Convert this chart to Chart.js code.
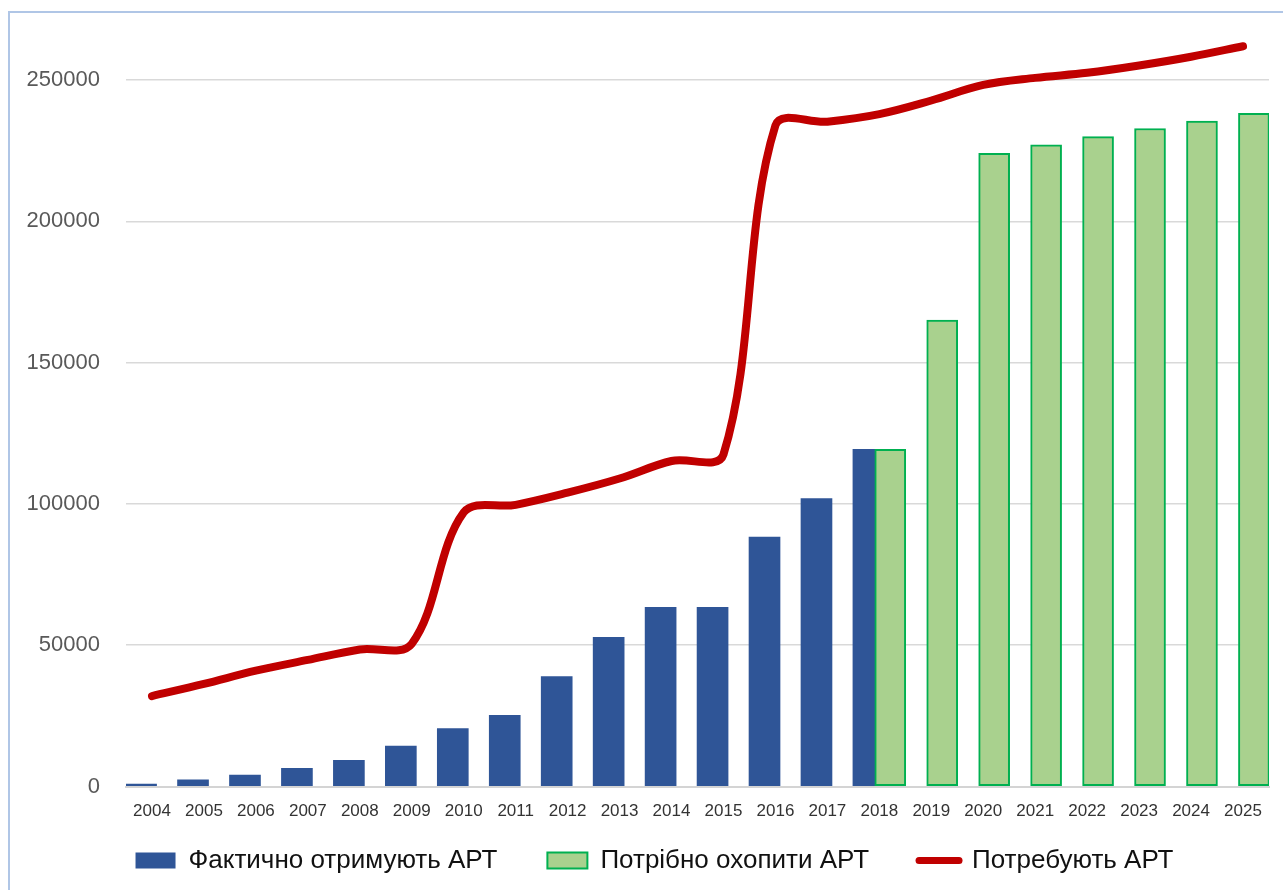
<!DOCTYPE html>
<html lang="uk">
<head>
<meta charset="utf-8">
<title>АРТ: фактичне охоплення та потреба</title>
<script src="https://cdn.jsdelivr.net/npm/chart.js@4.4.1/dist/chart.umd.min.js"></script>
<style>
  html, body { margin: 0; padding: 0; background: #ffffff; }
  #wrap { position: relative; width: 1283px; height: 890px; overflow: hidden; background: #ffffff; }
  #frame { position: absolute; left: 8px; top: 11px; width: 1400px; height: 1000px;
           border-left: 2px solid #b0c6e6; border-top: 2px solid #b0c6e6; box-sizing: border-box; }
  #chart { position: absolute; left: 0; top: 0; }
</style>
</head>
<body>
<div id="wrap">
  <div id="frame"></div>
  <canvas id="chart" width="1283" height="890"></canvas>
</div>
<script>
// Years on the horizontal axis
const YEARS = [2004, 2005, 2006, 2007, 2008, 2009, 2010, 2011, 2012, 2013, 2014,
               2015, 2016, 2017, 2018, 2019, 2020, 2021, 2022, 2023, 2024, 2025];

// People actually receiving ART (reported years)
const ACTUAL = [900, 2400, 4000, 6400, 9300, 14300, 20500, 25200, 38900, 52800, 63400,
                63400, 88300, 101900, 119300, null, null, null, null, null, null, null];

// People who need to be covered by ART (targets)
const TARGET = [null, null, null, null, null, null, null, null, null, null, null,
                null, null, null, 119300, 165100, 224100, 227100, 230000, 232900, 235500, 238300];

// People who require ART
const REQUIRED = [32000, 36300, 41000, 44800, 48500, 50500, 97000, 99700, 104000, 109000, 115200,
                  117500, 234000, 235300, 238000, 242800, 248300, 250800, 252600, 255200, 258300, 262000];

// Value-axis tick labels
const Y_TICKS = [0, 50000, 100000, 150000, 200000, 250000];

const LABELS = ['Фактично отримують АРТ', 'Потрібно охопити АРТ', 'Потребують АРТ'];

const BLUE = '#2F5597';
const GREEN_FILL = '#A9D18E';
const GREEN_EDGE = '#00B050';
const RED = '#C00000';

// The two bar series sit side by side within each year slot
const SLOT_SHIFT = 0.21;

function toPoints(values, shift) {
  const pts = [];
  values.forEach((v, i) => { if (v !== null) pts.push({ x: YEARS[i] + shift, y: v }); });
  return pts;
}

const FONT = '"Liberation Sans", Arial, sans-serif';

// Nudges the legend row into its place under the axis labels
const legendPlacement = {
  id: 'legendPlacement',
  afterLayout(chart) {
    const lg = chart.legend;
    if (!lg) return;
    const dy = -25, dx = 20;
    lg.top += dy;
    lg.left += dx; lg.right += dx;
    lg.bottom = chart.height;
    lg.height = lg.bottom - lg.top;
  }
};

new Chart(document.getElementById('chart'), {
  type: 'bar',
  plugins: [legendPlacement],
  data: {
    datasets: [
      {
        type: 'bar',
        label: LABELS[0],
        data: toPoints(ACTUAL, -SLOT_SHIFT),
        backgroundColor: BLUE,
        borderWidth: 0,
        barThickness: 31,
        grouped: false,
        order: 3
      },
      {
        type: 'bar',
        label: LABELS[1],
        data: toPoints(TARGET, SLOT_SHIFT),
        backgroundColor: GREEN_FILL,
        borderColor: GREEN_EDGE,
        borderWidth: 2,
        borderSkipped: false,
        barThickness: 31,
        grouped: false,
        order: 2
      },
      {
        type: 'line',
        label: LABELS[2],
        data: toPoints(REQUIRED, 0),
        borderColor: RED,
        backgroundColor: RED,
        borderWidth: 8,
        borderCapStyle: 'round',
        borderJoinStyle: 'round',
        tension: 0.35,
        pointRadius: 0,
        pointHoverRadius: 0,
        fill: false,
        order: 1
      }
    ]
  },
  options: {
    responsive: false,
    animation: false,
    layout: { padding: { left: 0, right: 14, top: 18, bottom: 17.5 } },
    scales: {
      x: {
        type: 'linear',
        min: YEARS[0] - 0.5,
        max: YEARS[YEARS.length - 1] + 0.5,
        offset: false,
        afterBuildTicks: (axis) => { axis.ticks = YEARS.map(v => ({ value: v })); },
        afterFit: (axis) => { axis.height = 36; },
        grid: { display: false, drawTicks: false },
        border: { display: true, color: '#d4d4d4', width: 2 },
        ticks: {
          autoSkip: false,
          maxRotation: 0,
          padding: 15,
          color: '#333333',
          font: { family: FONT, size: 17 },
          callback: (v) => String(v)
        }
      },
      y: {
        min: 0,
        max: 272000,
        afterBuildTicks: (axis) => { axis.ticks = Y_TICKS.map(v => ({ value: v })); },
        afterFit: (axis) => { axis.width = 126; },
        grid: { color: '#d9d9d9', lineWidth: 1.5, drawTicks: true, tickLength: 26, tickColor: 'rgba(0,0,0,0)' },
        border: { display: false },
        ticks: {
          padding: 0,
          color: '#595959',
          font: { family: FONT, size: 22 },
          callback: (v) => String(v)
        }
      }
    },
    plugins: {
      tooltip: { enabled: false },
      legend: {
        position: 'bottom',
        maxHeight: 50,
        labels: {
          usePointStyle: true,
          pointStyleWidth: 40,
          boxHeight: 16,
          padding: 50,
          color: '#111111',
          font: { family: FONT, size: 26 },
          generateLabels: (chart) => {
            const items = Chart.defaults.plugins.legend.labels.generateLabels(chart);
            items.forEach((it) => {
              const ds = chart.data.datasets[it.datasetIndex];
              if (ds.type === 'line') {
                it.pointStyle = 'line';
                it.strokeStyle = RED;
                it.lineWidth = 7;
                it.lineCap = 'round';
              } else {
                it.pointStyle = 'rect';
                it.fillStyle = ds.backgroundColor;
                it.strokeStyle = ds.borderColor || ds.backgroundColor;
                it.lineWidth = ds.borderWidth;
              }
            });
            return items.sort((a, b) => a.datasetIndex - b.datasetIndex);
          }
        }
      }
    }
  }
});
</script>
</body>
</html>
